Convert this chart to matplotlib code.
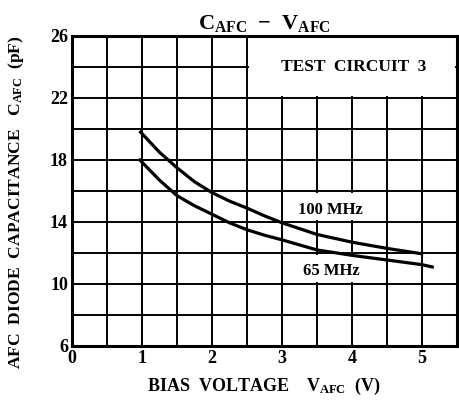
import matplotlib.pyplot as plt
from matplotlib.patches import Rectangle

# curve data
v_100 = [0.98, 1.25, 1.5, 1.75, 2.0, 2.25, 2.5, 2.75, 3.0, 3.5, 4.0, 4.5, 5.0]
c_100 = [19.8, 18.5, 17.5, 16.6, 15.9, 15.35, 14.9, 14.4, 13.95, 13.2, 12.7, 12.3, 11.95]
v_65 = [0.97, 1.25, 1.5, 1.75, 2.0, 2.25, 2.5, 2.75, 3.0, 3.5, 4.0, 4.5, 5.0, 5.15]
c_65 = [18.0, 16.7, 15.7, 15.05, 14.5, 13.95, 13.5, 13.15, 12.85, 12.2, 11.85, 11.55, 11.25, 11.1]

xticks = [0, 1, 2, 3, 4, 5]
yticks = [6, 10, 14, 18, 22, 26]

plt.rcParams['font.family'] = ['Liberation Serif', 'DejaVu Serif']
plt.rcParams['font.weight'] = 'bold'
plt.rcParams['axes.labelweight'] = 'bold'
plt.rcParams['axes.titleweight'] = 'bold'
plt.rcParams['mathtext.fontset'] = 'custom'
plt.rcParams['mathtext.rm'] = 'Liberation Serif:bold'
plt.rcParams['mathtext.default'] = 'rm'

fig = plt.figure(figsize=(4.59, 4.0), dpi=100)
ax = fig.add_axes([0.157, 0.135, 0.838, 0.775])

ax.set_xlim(0, 5.5)
ax.set_ylim(6, 26)
ax.set_xticks([i * 0.5 for i in range(12)])
ax.set_yticks(list(range(6, 27, 2)))
ax.set_xticklabels([str(int(t)) if t in xticks else "" for t in ax.get_xticks()])
ax.set_yticklabels([str(t) if t in yticks else "" for t in ax.get_yticks()])
ax.tick_params(length=0, labelsize=13, pad=3)
ax.grid(True, color="black", linewidth=1.4)
ax.set_axisbelow(True)
for s in ax.spines.values():
    s.set_linewidth(2.2)

# blank areas behind the text
d = 0.03
for (x0, y0, w, h) in [(2.5, 22, 3.0, 4), (3.0, 14, 1.5, 2), (3.0, 10, 1.5, 2)]:
    ax.add_patch(Rectangle((x0 + d, y0 + 0.12), w - 2 * d, h - 0.24,
                           facecolor="white", edgecolor="none", zorder=1))

ax.plot(v_100, c_100, color="black", linewidth=2.3, zorder=3)
ax.plot(v_65, c_65, color="black", linewidth=2.3, zorder=3)

ax.text(3.7, 14.75, "100 MHz", ha="center", va="center", fontsize=12, zorder=4)
ax.text(3.7, 10.85, "65 MHz", ha="center", va="center", fontsize=12, zorder=4)
ax.text(4.02, 24.0, "TEST  CIRCUIT  3", ha="center", va="center", fontsize=12.5, zorder=4)

ax.set_title("$C_{AFC}$  −  $V_{AFC}$", fontsize=16, pad=5)
ax.set_xlabel("BIAS  VOLTAGE    $V_{AFC}$  (V)", fontsize=13, labelpad=6)
ax.set_ylabel("AFC  DIODE  CAPACITANCE   $C_{AFC}$  (pF)", fontsize=12.6)
ax.yaxis.set_label_coords(-0.12, 0.465)

fig.savefig("out.png", dpi=100)
